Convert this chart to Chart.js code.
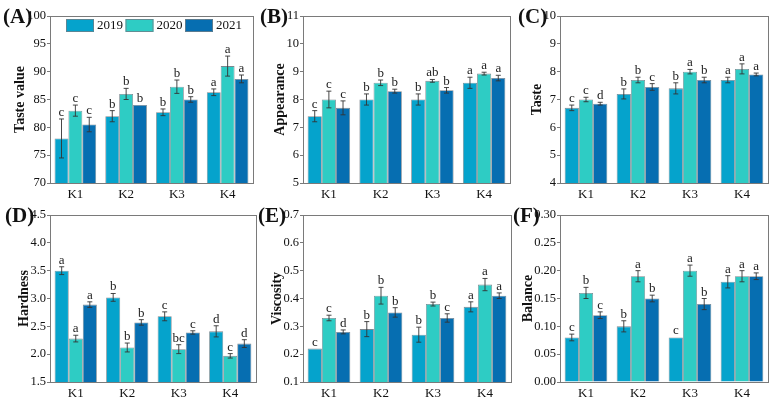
<!DOCTYPE html>
<html>
<head>
<meta charset="utf-8">
<script src="https://cdn.jsdelivr.net/npm/chart.js@4.4.1/dist/chart.umd.min.js"></script>
<style>
  body { margin: 0; background: #fff; }
  #wrap { position: relative; width: 775px; height: 403px; overflow: hidden; }
  canvas { position: absolute; }
</style>
</head>
<body>
<div id="wrap"></div>
<script>
// data
const categories = ['K1', 'K2', 'K3', 'K4'];
const years = ['2019', '2020', '2021'];
const yearColors = ['#05A3CC', '#2ECCC4', '#066EB1'];

// one row per year, one value per K
const tasteValue = [[78, 82, 82.7, 86.3], [83, 86, 87.3, 91], [80.5, 84, 85, 88.7]];
const tasteValueErr = [[3.5, 1, 0.6, 0.6], [1, 1, 1.2, 1.8], [1.3, 0, 0.5, 0.7]];
const tasteValueSig = [['c', 'b', 'b', 'a'], ['c', 'b', 'b', 'a'], ['c', 'b', 'b', 'a']];

const appearance = [[7.4, 8.0, 8.0, 8.6], [8.0, 8.6, 8.67, 8.93], [7.7, 8.3, 8.33, 8.77]];
const appearanceErr = [[0.2, 0.2, 0.2, 0.2], [0.3, 0.1, 0.05, 0.05], [0.25, 0.07, 0.1, 0.1]];
const appearanceSig = [['c', 'b', 'b', 'a'], ['c', 'b', 'ab', 'a'], ['c', 'b', 'b', 'a']];

const taste = [[6.7, 7.2, 7.4, 7.7], [7.0, 7.7, 8.0, 8.1], [6.85, 7.45, 7.7, 7.9]];
const tasteErr = [[0.1, 0.18, 0.2, 0.1], [0.08, 0.1, 0.08, 0.18], [0.05, 0.12, 0.1, 0.05]];
const tasteSig = [['c', 'b', 'b', 'a'], ['c', 'b', 'a', 'a'], ['d', 'c', 'b', 'a']];

const hardness = [[3.5, 3.02, 2.68, 2.41], [2.28, 2.12, 2.09, 1.97], [2.89, 2.57, 2.39, 2.19]];
const hardnessErr = [[0.07, 0.07, 0.08, 0.1], [0.06, 0.08, 0.08, 0.04], [0.05, 0.05, 0.03, 0.07]];
const hardnessSig = [['a', 'b', 'c', 'd'], ['a', 'b', 'bc', 'c'], ['a', 'b', 'c', 'd']];

const viscosity = [[0.22, 0.29, 0.27, 0.37], [0.33, 0.41, 0.38, 0.45], [0.28, 0.35, 0.33, 0.41]];
const viscosityErr = [[0, 0.027, 0.027, 0.018], [0.01, 0.03, 0.007, 0.022], [0.007, 0.017, 0.015, 0.01]];
const viscositySig = [['c', 'b', 'b', 'a'], ['c', 'b', 'b', 'a'], ['d', 'b', 'c', 'a']];

const balance = [[0.08, 0.10, 0.08, 0.18], [0.16, 0.19, 0.20, 0.19], [0.12, 0.15, 0.14, 0.19]];
const balanceErr = [[0.006, 0.01, 0, 0.011], [0.01, 0.01, 0.01, 0.01], [0.006, 0.006, 0.01, 0.006]];
const balanceSig = [['c', 'b', 'c', 'a'], ['b', 'a', 'a', 'a'], ['c', 'b', 'b', 'a']];

const FONT = "'Liberation Serif', 'Times New Roman', serif";

const panels = [
  { tag: '(A)', title: 'Taste value', vals: tasteValue, err: tasteValueErr, sig: tasteValueSig,
    min: 70, max: 100, step: 5, dec: 0, left: 0, top: 0, w: 255, h: 200, yW: 50, plotTop: 16, plotRight: 253, xH: 17, tagX: 3, titleX: 20, legend: true },
  { tag: '(B)', title: 'Appearance', vals: appearance, err: appearanceErr, sig: appearanceSig,
    min: 5, max: 11, step: 1, dec: 0, left: 255, top: 0, w: 257, h: 200, yW: 48, plotTop: 16, plotRight: 255, xH: 17, tagX: 5, titleX: 25 },
  { tag: '(C)', title: 'Taste', vals: taste, err: tasteErr, sig: tasteSig,
    min: 4, max: 10, step: 1, dec: 0, left: 510, top: 0, w: 265, h: 200, yW: 50, plotTop: 16, plotRight: 258, xH: 17, tagX: 8, titleX: 27 },
  { tag: '(D)', title: 'Hardness', vals: hardness, err: hardnessErr, sig: hardnessSig,
    min: 1.5, max: 4.5, step: 0.5, dec: 1, left: 0, top: 200, w: 258, h: 203, yW: 50, plotTop: 15, plotRight: 256, xH: 21, tagX: 5, titleX: 24 },
  { tag: '(E)', title: 'Viscosity', vals: viscosity, err: viscosityErr, sig: viscositySig,
    min: 0.1, max: 0.7, step: 0.1, dec: 1, left: 255, top: 200, w: 258, h: 203, yW: 48, plotTop: 15, plotRight: 256, xH: 21, tagX: 3, titleX: 22 },
  { tag: '(F)', title: 'Balance', vals: balance, err: balanceErr, sig: balanceSig,
    min: 0, max: 0.3, step: 0.05, dec: 2, left: 510, top: 200, w: 265, h: 203, yW: 50, plotTop: 15, plotRight: 258, xH: 21, tagX: 3, titleX: 18 }
];

// error bars, significance letters, frame, panel tag, legend
const extras = {
  id: 'extras',
  afterDatasetsDraw(chart, args, opts) {
    const p = opts.panel;
    const ctx = chart.ctx;
    const y = chart.scales.y;
    ctx.save();
    chart.data.datasets.forEach((ds, i) => {
      const meta = chart.getDatasetMeta(i);
      meta.data.forEach((bar, j) => {
        const v = p.vals[i][j], e = p.err[i][j];
        const yt = y.getPixelForValue(v + e);
        const yb = y.getPixelForValue(v - e);
        if (e > 0) {
          ctx.strokeStyle = '#333';
          ctx.lineWidth = 0.9;
          ctx.beginPath();
          ctx.moveTo(bar.x, yt); ctx.lineTo(bar.x, yb);
          ctx.moveTo(bar.x - 2.5, yt); ctx.lineTo(bar.x + 2.5, yt);
          ctx.moveTo(bar.x - 2.5, yb); ctx.lineTo(bar.x + 2.5, yb);
          ctx.stroke();
        }
        ctx.fillStyle = '#222';
        ctx.font = '13px ' + FONT;
        ctx.textAlign = 'center';
        ctx.textBaseline = 'alphabetic';
        ctx.fillText(p.sig[i][j], bar.x, yt - 3);
      });
    });
    ctx.restore();
  },
  afterDraw(chart, args, opts) {
    const p = opts.panel;
    const ctx = chart.ctx;
    const a = chart.chartArea;
    ctx.save();
    ctx.strokeStyle = '#7a7a7a';
    ctx.lineWidth = 1;
    ctx.strokeRect(Math.round(a.left) + 0.5, Math.round(a.top) + 0.5, Math.round(a.right - a.left), Math.round(a.bottom - a.top));
    ctx.fillStyle = '#111';
    ctx.font = 'bold 21px ' + FONT;
    ctx.textAlign = 'left';
    ctx.textBaseline = 'alphabetic';
    ctx.fillText(p.tag, p.tagX, a.top + 7);
    if (p.legend) {
      ctx.font = '13px ' + FONT;
      ctx.textBaseline = 'middle';
      chart.data.datasets.forEach((ds, i) => {
        const x = a.left + 16 + i * 59.5;
        const yy = a.top + 3;
        ctx.fillStyle = ds.backgroundColor;
        ctx.fillRect(x, yy, 28, 13);
        ctx.strokeStyle = '#6f7f88';
        ctx.lineWidth = 0.8;
        ctx.strokeRect(x + 0.5, yy + 0.5, 27, 12);
        ctx.fillStyle = '#111';
        ctx.fillText(ds.label, x + 31, yy + 7);
      });
    }
    ctx.restore();
  }
};

const wrap = document.getElementById('wrap');
panels.forEach(p => {
  const cv = document.createElement('canvas');
  cv.width = p.w; cv.height = p.h;
  cv.style.left = p.left + 'px';
  cv.style.top = p.top + 'px';
  cv.style.width = p.w + 'px';
  cv.style.height = p.h + 'px';
  wrap.appendChild(cv);

  new Chart(cv.getContext('2d'), {
    type: 'bar',
    data: {
      labels: categories,
      datasets: years.map((yr, i) => ({
        label: yr,
        data: p.vals[i],
        backgroundColor: yearColors[i],
        borderColor: 'rgba(80,95,105,0.75)',
        borderWidth: 0.8,
        categoryPercentage: 0.82,
        barPercentage: 1.0
      }))
    },
    options: {
      responsive: false,
      animation: false,
      layout: { padding: { left: 0, top: p.plotTop, right: p.w - p.plotRight, bottom: 0 } },
      plugins: {
        legend: { display: false },
        tooltip: { enabled: false },
        extras: { panel: p }
      },
      scales: {
        x: {
          grid: { display: false, drawTicks: false },
          border: { display: false },
          ticks: { color: '#111', font: { family: FONT, size: 13 }, padding: 4 },
          afterFit: s => { s.height = p.xH; }
        },
        y: {
          min: p.min, max: p.max,
          grid: { drawOnChartArea: false, tickLength: 3, color: '#7a7a7a' },
          border: { display: false },
          ticks: {
            stepSize: p.step, padding: 1, color: '#111',
            font: { family: FONT, size: 12.5 },
            callback: v => Number(v).toFixed(p.dec)
          },
          title: {
            display: true, text: p.title, color: '#111',
            font: { family: FONT, size: 14, weight: 'bold' },
            padding: { top: p.titleX - 8.4, bottom: 0 }
          },
          afterFit: s => { s.width = p.yW; }
        }
      }
    },
    plugins: [extras]
  });
});
</script>
</body>
</html>
